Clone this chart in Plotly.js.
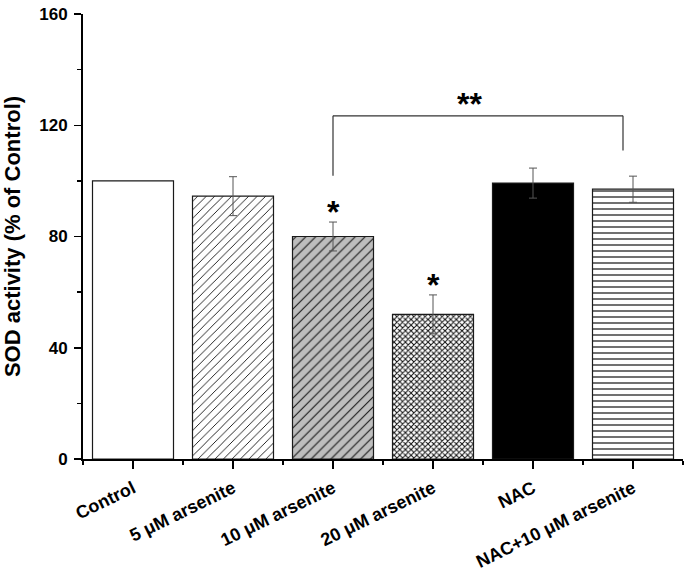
<!DOCTYPE html>
<html>
<head>
<meta charset="utf-8">
<script src="https://cdn.plot.ly/plotly-3.0.1.min.js"></script>
<style>html,body{margin:0;padding:0;background:#fff;}</style>
</head>
<body>
<div id="chart" style="width:685px;height:573px;"></div>
<script>
// ---- data ----
const categories = ["Control", "5 μM arsenite", "10 μM arsenite", "20 μM arsenite", "NAC", "NAC+10 μM arsenite"];
const sodActivity = [100, 94.5, 80, 52, 99.2, 97];
const sodError = [null, 7, 5.2, 7, 5.4, 4.7];
const singleStarGroups = ["10 μM arsenite", "20 μM arsenite"];
const bracketFrom = "10 μM arsenite";
const bracketTo = "NAC+10 μM arsenite";
const bracketLabel = "**";
const yTicks = [0, 40, 80, 120, 160];

// ---- styles ----
const fillColors = ["#ffffff", "#ffffff", "#bdbdbd", "#ffffff", "#000000", "#ffffff"];
const patShapes = ["", "/", "/", "x", "", "-"];
const patSizes = [6, 6, 7, 4, 6, 6];
const patSolid = [0.15, 0.15, 0.15, 0.45, 0.15, 0.2];
const FONT = "Liberation Sans, Arial, sans-serif";

const xIdx = categories.map((c, i) => i);

const traces = categories.map((c, i) => {
  const marker = {
    color: fillColors[i],
    line: {color: "#1a1a1a", width: 1.2}
  };
  if (patShapes[i]) {
    marker.pattern = {
      shape: patShapes[i],
      size: patSizes[i],
      solidity: patSolid[i],
      fgcolor: "#111111",
      bgcolor: fillColors[i],
      fillmode: "replace"
    };
  }
  const t = {
    type: "bar",
    name: c,
    x: [xIdx[i]],
    y: [sodActivity[i]],
    width: 0.81,
    marker: marker,
    hoverinfo: "skip"
  };
  if (sodError[i] != null) {
    t.error_y = {type: "data", array: [sodError[i]], visible: true, color: "#555555", thickness: 1, width: 4};
  }
  return t;
});

const annotations = [];
singleStarGroups.forEach(g => {
  const i = categories.indexOf(g);
  annotations.push({
    x: i, y: sodActivity[i] + (sodError[i] || 0), xref: "x", yref: "y",
    text: "<b>*</b>", showarrow: false, yanchor: "bottom", yshift: -10,
    font: {family: FONT, size: 32, color: "#000"}
  });
});

const iA = categories.indexOf(bracketFrom);
const iB = categories.indexOf(bracketTo);
const bracketTop = 123.4;
annotations.push({
  x: (iA + iB) / 2 - 0.14, y: bracketTop, xref: "x", yref: "y",
  text: "<b>" + bracketLabel + "</b>", showarrow: false, yanchor: "bottom", yshift: -8,
  font: {family: FONT, size: 32, color: "#000"}
});

const lineStyle = {color: "#333333", width: 1.2};
const shapes = [
  {type: "line", xref: "x", yref: "y", x0: iA, x1: iA, y0: bracketTop, y1: 101.8, line: lineStyle},
  {type: "line", xref: "x", yref: "y", x0: iA, x1: iB - 0.1, y0: bracketTop, y1: bracketTop, line: lineStyle},
  {type: "line", xref: "x", yref: "y", x0: iB - 0.1, x1: iB - 0.1, y0: bracketTop, y1: 110.9, line: lineStyle}
];

const layout = {
  width: 685, height: 573,
  margin: {l: 83, r: 2, t: 14, b: 114},
  paper_bgcolor: "#fff", plot_bgcolor: "#fff",
  showlegend: false,
  barmode: "overlay",
  font: {family: FONT, color: "#000"},
  xaxis: {
    type: "linear",
    range: [-0.5, 5.5],
    tickmode: "array", tickvals: xIdx, ticktext: categories.map(c => "<b>" + c + "</b>"),
    tickangle: -26,
    ticks: "outside", ticklen: 8, tickwidth: 1.5, tickcolor: "#000",
    minor: {tickmode: "linear", tick0: 0.5, dtick: 1, ticks: "outside", ticklen: 4, tickwidth: 1.5, tickcolor: "#000"},
    showline: true, linecolor: "#000", linewidth: 2,
    showgrid: false, zeroline: false,
    tickfont: {family: FONT, size: 18, color: "#000"},
    ticklabelstandoff: 2,
    fixedrange: true
  },
  yaxis: {
    range: [0, 160],
    tickmode: "array", tickvals: yTicks, ticktext: yTicks.map(v => "<b>" + v + "</b>"),
    ticks: "outside", ticklen: 7, tickwidth: 1.5, tickcolor: "#000",
    minor: {tickmode: "linear", tick0: 0, dtick: 20, ticks: "outside", ticklen: 4, tickwidth: 1.5, tickcolor: "#000"},
    showline: true, linecolor: "#000", linewidth: 2,
    showgrid: false, zeroline: false,
    tickfont: {family: FONT, size: 17, color: "#000"},
    ticklabelstandoff: 3,
    title: {text: "<b>SOD activity (% of Control)</b>", font: {family: FONT, size: 22, color: "#000"}, standoff: 14},
    fixedrange: true
  },
  annotations: annotations,
  shapes: shapes
};

Plotly.newPlot("chart", traces, layout, {displayModeBar: false, staticPlot: true});
</script>
</body>
</html>
